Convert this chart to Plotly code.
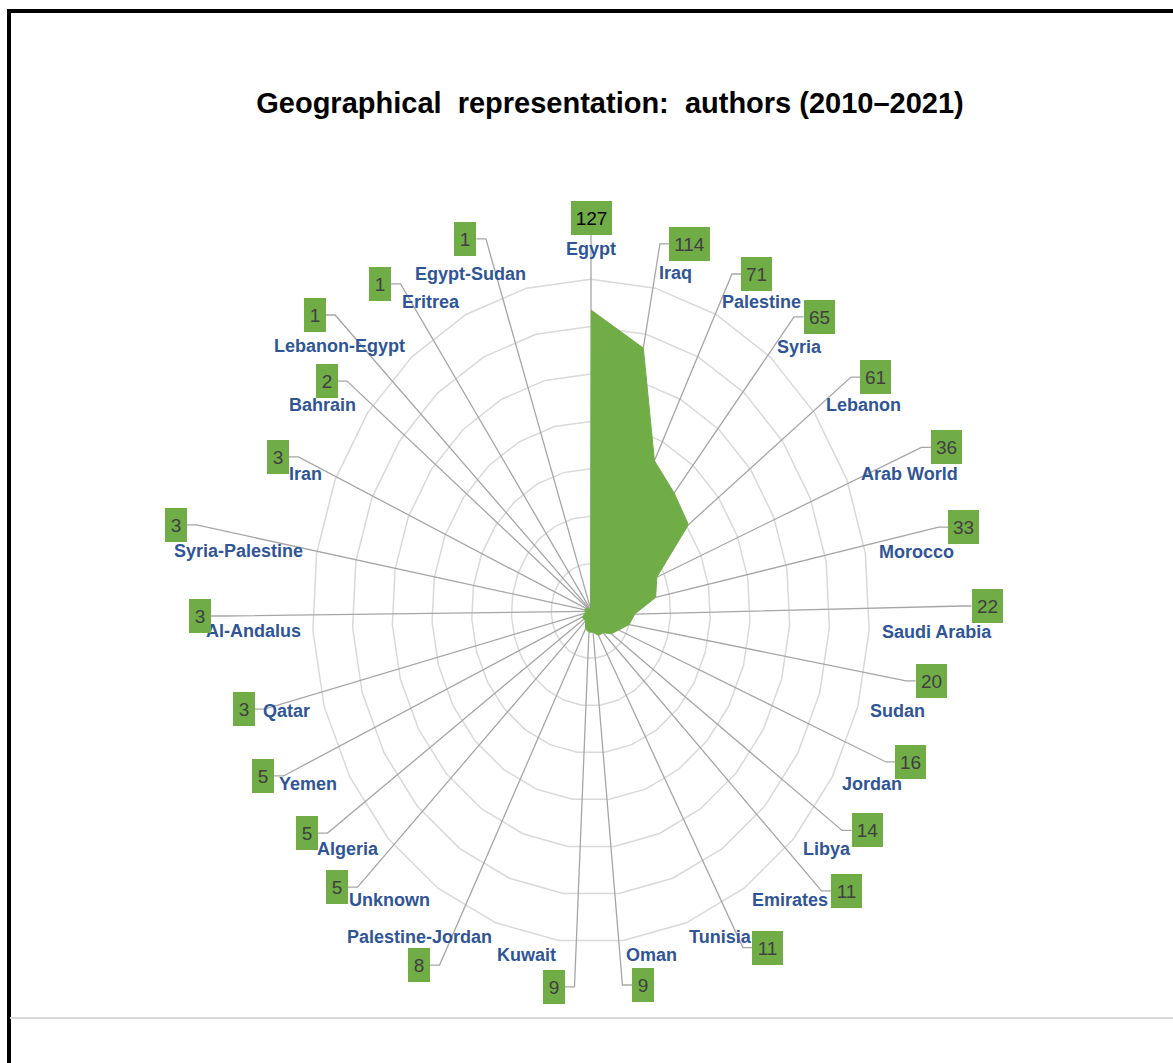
import math
import plotly.graph_objects as go

# ---- data -------------------------------------------------------------
categories = [
    "Egypt", "Iraq", "Palestine", "Syria", "Lebanon", "Arab World", "Morocco",
    "Saudi Arabia", "Sudan", "Jordan", "Libya", "Emirates", "Tunisia", "Oman",
    "Kuwait", "Palestine-Jordan", "Unknown", "Algeria", "Yemen", "Qatar",
    "Al-Andalus", "Syria-Palestine", "Iran", "Bahrain", "Lebanon-Egypt",
    "Eritrea", "Egypt-Sudan",
]
authors = [127, 114, 71, 65, 61, 36, 33, 22, 20, 16, 14, 11, 11, 9, 9, 8,
           5, 5, 5, 3, 3, 3, 3, 2, 1, 1, 1]
grid_levels = [20, 40, 60, 80, 100, 120, 140]

# ---- label placement (chart units, centre of the radar = 0,0) ---------
name_x = [0.0, 42.7, 85.9, 105.0, 136.7, 159.8, 163.8, 173.9, 153.8, 141.2,
          118.6, 100.0, 65.3, 30.2, -32.2, -86.4, -101.5, -122.1, -142.2,
          -152.8, -169.8, -176.9, -143.7, -134.7, -126.6, -80.4, -60.8]
name_y = [152.7, 142.6, 130.4, 111.4, 86.9, 57.8, 24.9, -8.9, -42.2, -73.0,
          -100.4, -121.9, -137.6, -145.1, -145.1, -137.6, -121.9, -100.4,
          -73.0, -42.2, -8.4, 25.3, 57.8, 86.9, 111.8, 130.4, 142.2]
box_x = [0.0, 49.7, 83.4, 114.6, 143.2, 178.6, 187.2, 199.0, 170.9, 160.8,
         138.7, 128.4, 88.9, 26.1, -18.6, -86.4, -127.6, -142.7, -164.8,
         -174.4, -196.5, -208.5, -157.3, -132.9, -138.9, -106.0, -63.1]
box_y = [165.8, 154.9, 142.2, 124.1, 98.7, 69.0, 35.4, 2.1, -29.5, -63.7,
         -92.6, -118.1, -142.0, -157.8, -158.6, -149.4, -116.5, -93.7, -69.6,
         -41.4, -2.1, 36.3, 65.0, 97.0, 124.9, 138.0, 157.0]

# ---- page geometry ----------------------------------------------------
W, H = 1173, 1063
CX, CY = 591, 611          # radar centre in pixels
SX, SY = 1.99, 2.37        # pixels per unit, horizontal / vertical
X_RANGE = [-280, 285]
Y_RANGE = [-175, 250]

x_dom = [(CX + X_RANGE[0] * SX) / W, (CX + X_RANGE[1] * SX) / W]
y_dom = [1 - (CY - Y_RANGE[0] * SY) / H, 1 - (CY - Y_RANGE[1] * SY) / H]

GREEN = "#70AD47"
BLUE = "#2F5597"
GRID = "#D9D9D9"
LEADER = "#A6A6A6"
BOX_H = 34
ELBOW_PX = 9.5

n = len(categories)
angles = [2 * math.pi * i / n for i in range(n)]


def to_xy(r, a):
    return r * math.sin(a), r * math.cos(a)


fig = go.Figure()

# polygonal grid rings
for lvl in grid_levels:
    gx, gy = [], []
    for a in angles + [angles[0]]:
        px, py = to_xy(lvl, a)
        gx.append(px)
        gy.append(py)
    fig.add_trace(go.Scatter(x=gx, y=gy, mode="lines",
                             line=dict(color=GRID, width=1.5),
                             hoverinfo="skip", showlegend=False))

# data points
pts = [to_xy(v, a) for v, a in zip(authors, angles)]


def box_width(v):
    return {1: 22, 2: 31, 3: 41}[len(str(v))]


# leader lines from the value boxes to the points
lx, ly = [], []
for i, v in enumerate(authors):
    bx, by = box_x[i], box_y[i]
    px, py = pts[i]
    half = box_width(v) / 2 / SX
    if abs(bx) < 1e-6:
        lx += [bx, px, None]
        ly += [by - BOX_H / 2 / SY, py, None]
    elif bx > 0:
        ex = bx - half
        lx += [ex, ex - ELBOW_PX / SX, px, None]
        ly += [by, by, py, None]
    else:
        ex = bx + half
        lx += [ex, ex + ELBOW_PX / SX, px, None]
        ly += [by, by, py, None]
fig.add_trace(go.Scatter(x=lx, y=ly, mode="lines",
                         line=dict(color=LEADER, width=1.3),
                         hoverinfo="skip", showlegend=False))

# filled radar area
fx = [p[0] for p in pts] + [pts[0][0]]
fy = [p[1] for p in pts] + [pts[0][1]]
fig.add_trace(go.Scatter(x=fx, y=fy, mode="lines", fill="toself",
                         fillcolor=GREEN, line=dict(color=GREEN, width=1),
                         hoverinfo="skip", showlegend=False))

annotations = []
# category names
for i, name in enumerate(categories):
    annotations.append(dict(
        x=name_x[i], y=name_y[i], xref="x", yref="y", text=name,
        showarrow=False, xanchor="center", yanchor="middle",
        font=dict(family="Liberation Sans, Arial, sans-serif", size=18,
                  color=BLUE, weight="bold")))

# value boxes
for i, v in enumerate(authors):
    annotations.append(dict(
        x=box_x[i], y=box_y[i], xref="x", yref="y", text=str(v),
        showarrow=False, xanchor="center", yanchor="middle",
        width=box_width(v), height=BOX_H, bgcolor=GREEN,
        borderpad=0, borderwidth=0, align="center", valign="middle",
        font=dict(family="Liberation Sans Narrow, Liberation Sans, Arial",
                  size=19, color="#000000" if v == max(authors) else "#404040")))

shapes = [
    # frame edges
    dict(type="rect", xref="paper", yref="paper", x0=7 / W, x1=11 / W,
         y0=0, y1=1 - 9 / H, fillcolor="black", line=dict(width=0)),
    dict(type="rect", xref="paper", yref="paper", x0=7 / W, x1=1,
         y0=1 - 13 / H, y1=1 - 9 / H, fillcolor="black", line=dict(width=0)),
    # divider below the chart
    dict(type="line", xref="paper", yref="paper", x0=10 / W, x1=1,
         y0=1 - 1018 / H, y1=1 - 1018 / H, line=dict(color=GRID, width=2)),
]

fig.update_layout(
    width=W, height=H,
    margin=dict(l=0, r=0, t=0, b=0, pad=0),
    paper_bgcolor="white", plot_bgcolor="white",
    title=dict(
        text="Geographical\u00a0\u00a0representation:\u00a0\u00a0authors (2010–2021)",
        x=610 / W, xanchor="center", y=1 - 103 / H, yanchor="middle",
        font=dict(family="Liberation Sans, Arial, sans-serif", size=29,
                  color="black", weight="bold")),
    xaxis=dict(domain=x_dom, range=X_RANGE, visible=False, fixedrange=True),
    yaxis=dict(domain=y_dom, range=Y_RANGE, visible=False, fixedrange=True),
    annotations=annotations,
    shapes=shapes,
    showlegend=False,
)

fig.write_html("out.html")
